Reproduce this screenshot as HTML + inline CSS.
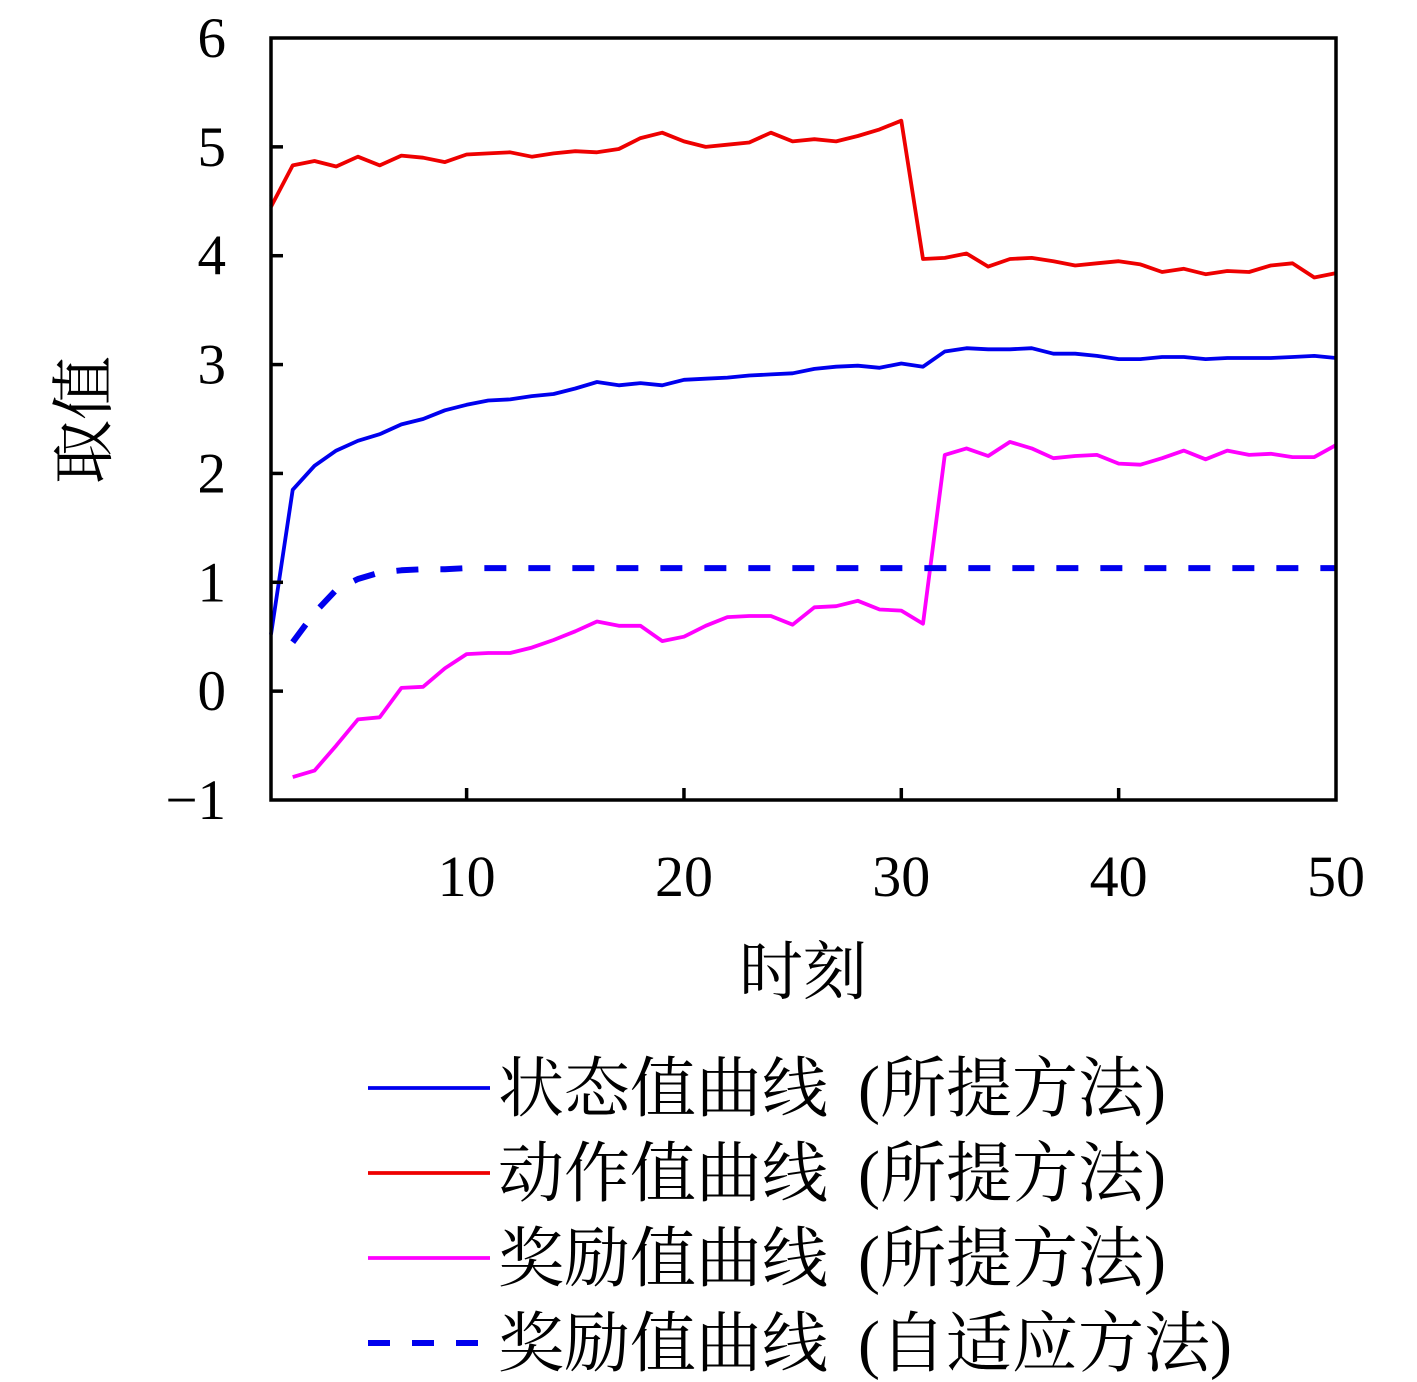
<!DOCTYPE html>
<html><head><meta charset="utf-8"><style>
html,body{margin:0;padding:0;background:#fff;}
svg{display:block;}
text{font-family:"Liberation Serif","Noto Serif CJK SC",serif;fill:#000;}
</style></head><body>
<svg id="chart" width="1417" height="1382" xmlns="http://www.w3.org/2000/svg"></svg>
<script>
const xValues = Array.from({length:50},(_,i)=>i+1);
const stateVals = [0.52,1.85,2.07,2.21,2.3,2.36,2.45,2.5,2.58,2.63,2.67,2.68,2.71,2.73,2.78,2.84,2.81,2.83,2.81,2.86,2.87,2.88,2.9,2.91,2.92,2.96,2.98,2.99,2.97,3.01,2.98,3.12,3.15,3.14,3.14,3.15,3.1,3.1,3.08,3.05,3.05,3.07,3.07,3.05,3.06,3.06,3.06,3.07,3.08,3.06];
const actionVals = [4.45,4.83,4.87,4.82,4.91,4.83,4.92,4.9,4.86,4.93,4.94,4.95,4.91,4.94,4.96,4.95,4.98,5.08,5.13,5.05,5.0,5.02,5.04,5.13,5.05,5.07,5.05,5.1,5.16,5.24,3.97,3.98,4.02,3.9,3.97,3.98,3.95,3.91,3.93,3.95,3.92,3.85,3.88,3.83,3.86,3.85,3.91,3.93,3.8,3.84];
const rewardVals = [null,-0.79,-0.73,-0.5,-0.26,-0.24,0.03,0.04,0.21,0.34,0.35,0.35,0.4,0.47,0.55,0.64,0.6,0.6,0.46,0.5,0.6,0.68,0.69,0.69,0.61,0.77,0.78,0.83,0.75,0.74,0.62,2.17,2.23,2.16,2.29,2.23,2.14,2.16,2.17,2.09,2.08,2.14,2.21,2.13,2.21,2.17,2.18,2.15,2.15,2.26];
const adaptiveVals = [null,0.45,0.72,0.93,1.03,1.09,1.11,1.12,1.12,1.13,1.13,1.13,1.13,1.13,1.13,1.13,1.13,1.13,1.13,1.13,1.13,1.13,1.13,1.13,1.13,1.13,1.13,1.13,1.13,1.13,1.13,1.13,1.13,1.13,1.13,1.13,1.13,1.13,1.13,1.13,1.13,1.13,1.13,1.13,1.13,1.13,1.13,1.13,1.13,1.13];
const yTicks = [-1,0,1,2,3,4,5,6];
const xTicks = [10,20,30,40,50];
const legendNames = ["状态值曲线","动作值曲线","奖励值曲线","奖励值曲线"];
const legendMethods = ["(所提方法)","(所提方法)","(所提方法)","(自适应方法)"];

const NS="http://www.w3.org/2000/svg";
const svg=document.getElementById('chart');
const L=271,R=1336,T=38,B=800;
const X=v=>L+(v-1)/(49)*(R-L);
const Y=v=>B-(v+1)/7*(B-T);
function el(tag,attrs,parent){const e=document.createElementNS(NS,tag);for(const k in attrs)e.setAttribute(k,attrs[k]);(parent||svg).appendChild(e);return e;}

const series=[
 {vals:stateVals,color:"#0000ee",dash:null,name:"state-value-line"},
 {vals:actionVals,color:"#ee0000",dash:null,name:"action-value-line"},
 {vals:rewardVals,color:"#ff00ff",dash:null,name:"reward-value-line"},
 {vals:adaptiveVals,color:"#0000ee",dash:"22 22",name:"adaptive-reward-line"}
];
series.forEach(s=>{
  const pts=[];
  s.vals.forEach((v,i)=>{if(v!==null)pts.push(X(xValues[i]).toFixed(1)+","+Y(v).toFixed(1));});
  const p=el('polyline',{points:pts.join(' '),fill:'none',stroke:s.color,'stroke-width':s.dash?6:3.8,'stroke-linejoin':'round'});
  if(s.dash)p.setAttribute('stroke-dasharray',s.dash);
  
  
});

const frame=el('rect',{x:L,y:T,width:R-L,height:B-T,fill:'none',stroke:'#000','stroke-width':3.5});



yTicks.forEach(v=>{
  const y=Y(v);
  if(v>-1&&v<6){const t=el('line',{x1:L,x2:L+12,y1:y,y2:y,stroke:'#000','stroke-width':3.5});
  
  }
  const lb=el('text',{x:226,y:y+19,'text-anchor':'end','font-size':57});
  lb.textContent=v<0?'\u2212'+Math.abs(v):String(v);
  
  
});
xTicks.forEach(v=>{
  const x=X(v);
  if(v<50){const t=el('line',{x1:x,x2:x,y1:B,y2:B-12,stroke:'#000','stroke-width':3.5});
  
  }
  const lb=el('text',{x:x,y:896,'text-anchor':'middle','font-size':58});
  lb.textContent=String(v);
  
  
});
const xt=el('text',{x:803,y:994,'text-anchor':'middle','font-size':64});
xt.textContent='时刻';


const yt=el('text',{x:0,y:0,'text-anchor':'middle','font-size':64,transform:'translate(106,420) rotate(-90)'});
yt.textContent='取值';



legendNames.forEach((lab,i)=>{
  const y=1088+i*85;
  const s=series[i];
  const ln=el('line',{x1:368,x2:490,y1:y,y2:y,stroke:s.color,'stroke-width':s.dash?6:3.8});
  if(s.dash)ln.setAttribute('stroke-dasharray','22 22');
  
  
  const t=el('text',{x:498,y:y+23,'font-size':66});
  t.textContent=lab;
  
  
  const m=el('text',{x:858,y:y+23,'font-size':66});
  m.textContent=legendMethods[i];
  
  
});
</script>
</body></html>
